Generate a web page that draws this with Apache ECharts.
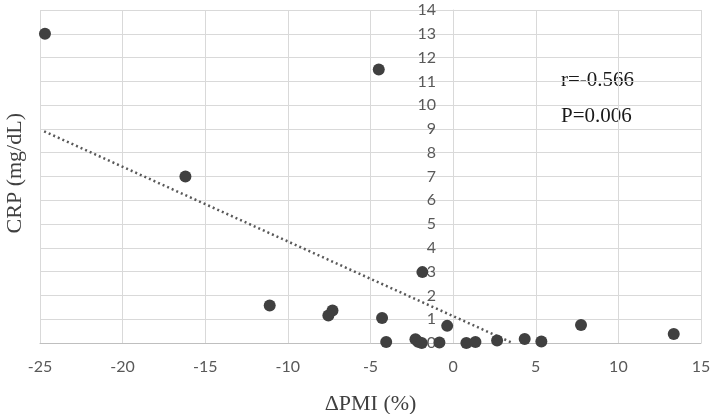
<!DOCTYPE html>
<html>
<head>
<meta charset="utf-8">
<script src="https://cdn.jsdelivr.net/npm/echarts@6/dist/echarts.min.js"></script>
<style>html,body{margin:0;padding:0;background:#fff;}#c{width:715px;height:414px;}</style>
</head>
<body>
<div id="c"></div>
<script>
// Data
const dPMI = [-24.7, -4.5, -16.2, -11.1, -7.3, -7.55, -4.3, -4.05, -1.86, -2.28, -2.12, -1.9, -0.83, -0.36, 0.8, 1.35, 2.66, 4.33, 5.34, 7.74, 13.35];
const CRP  = [13.0, 11.5, 7.0, 1.58, 1.37, 1.16, 1.05, 0.04, 2.98, 0.16, 0.05, 0.0, 0.02, 0.72, 0.0, 0.04, 0.11, 0.17, 0.06, 0.76, 0.38];
const trendX = [-24.75, 3.6];
const trendY = [8.9, 0.0];
const xTicks = [-25, -20, -15, -10, -5, 0, 5, 10, 15];
const yTicks = [0,1,2,3,4,5,6,7,8,9,10,11,12,13,14];
const statLines = ['r=-0.566', 'P=0.006'];

const points = dPMI.map((x, i) => [x, CRP[i]]);
const trend = trendX.map((x, i) => [x, trendY[i]]);

const gridLeft = 40, gridRight = 14, gridTop = 10, gridBottom = 71;
const plotW = 715 - gridLeft - gridRight;
const xMin = xTicks[0], xMax = xTicks[xTicks.length - 1];
// move the y axis (line + labels) to x = 0, like the reference
const yAxisOffset = -plotW * (0 - xMin) / (xMax - xMin);

const chart = echarts.init(document.getElementById('c'), null, {renderer: 'canvas'});
chart.setOption({
  animation: false,
  backgroundColor: '#ffffff',
  grid: {left: gridLeft, right: gridRight, top: gridTop, bottom: gridBottom, containLabel: false, outerBoundsMode: 'none'},
  xAxis: {
    type: 'value', min: xMin, max: xMax, interval: 5,
    axisLine: {show: true, onZero: false, lineStyle: {color: '#bfbfbf', width: 1}},
    axisTick: {show: false},
    axisLabel: {color: '#595959', fontFamily: 'Lato', fontSize: 16, margin: 16},
    splitLine: {show: true, lineStyle: {color: '#d9d9d9', width: 1}},
    name: 'ΔPMI (%)', nameLocation: 'middle', nameGap: 50,
    nameTextStyle: {color: '#404040', fontFamily: 'Liberation Serif', fontSize: 22}
  },
  yAxis: {
    type: 'value', min: yTicks[0], max: yTicks[yTicks.length - 1], interval: 1,
    position: 'left', offset: yAxisOffset,
    axisLine: {show: true, onZero: false, lineStyle: {color: '#d9d9d9', width: 1}},
    axisTick: {show: false},
    axisLabel: {color: '#595959', fontFamily: 'Lato', fontSize: 16, margin: 17},
    splitLine: {show: true, lineStyle: {color: '#d9d9d9', width: 1}},
    name: ''
  },
  graphic: [
    {type: 'text', left: 561, top: 70, style: {text: statLines[0], fill: '#1a1a1a', font: '21px "Liberation Serif"'}},
    {type: 'text', left: 561, top: 106, style: {text: statLines[1], fill: '#1a1a1a', font: '21px "Liberation Serif"'}},
    {type: 'text', left: 4, top: 113, rotation: Math.PI / 2, style: {text: 'CRP (mg/dL)', fill: '#404040', font: '22px "Liberation Serif"'}}
  ],
  series: [
    {
      type: 'line', data: trend, showSymbol: false, symbol: 'none',
      lineStyle: {color: '#595959', width: 2.5, type: [2, 3]}, z: 3, silent: true
    },
    {
      type: 'scatter', data: points, symbol: 'circle', symbolSize: 12,
      itemStyle: {color: '#404040', opacity: 1}, z: 4
    }
  ]
});
</script>
</body>
</html>
